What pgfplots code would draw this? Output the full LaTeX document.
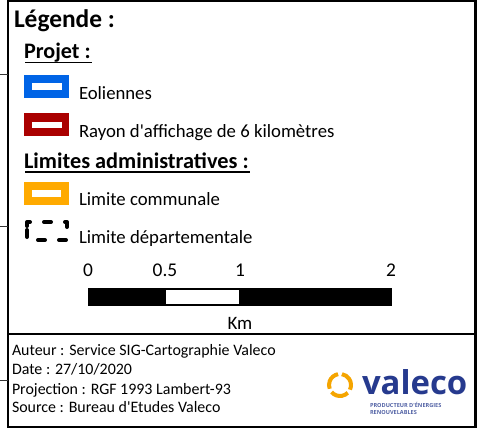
\documentclass[border=0pt]{standalone}
\usepackage{pgfplots}
\pgfplotsset{compat=1.18}
\usepackage{fontspec}
\setmainfont{Carlito}[Ligatures=TeXOff]
\newfontfamily\logofont{Open Sans}
\definecolor{eolblue}{RGB}{0,100,230}
\definecolor{rayred}{RGB}{170,0,0}
\definecolor{comorange}{RGB}{255,170,0}
\definecolor{logoblue}{RGB}{38,58,142}
\definecolor{logoorange}{RGB}{245,165,0}
\newcommand{\fs}[1]{\fontsize{#1}{#1}\selectfont}
\tikzset{tx/.style={inner sep=0pt, outer sep=0pt, anchor=base west}, tc/.style={inner sep=0pt, outer sep=0pt, anchor=base}}
\begin{document}
\begin{tikzpicture}
\useasboundingbox (0,0) rectangle (477bp,428bp);
\begin{axis}[at={(0,0)}, anchor=south west, width=477bp, height=428bp,
  scale only axis, xmin=0, xmax=477, ymin=0, ymax=428, y dir=reverse,
  hide axis, clip=false]

% ---- frame ----
\draw[black, line width=2bp] (axis cs:8,0) -- (axis cs:8,428);
\draw[black, line width=2bp] (axis cs:8,1) -- (axis cs:477,1);
\draw[black, line width=2.5bp] (axis cs:475.5,0) -- (axis cs:475.5,428);
\draw[black, line width=2bp] (axis cs:8,427) -- (axis cs:477,427);
\draw[black, line width=2.5bp] (axis cs:8,334) -- (axis cs:477,334);
\draw[black!80, line width=0.8bp] (axis cs:0,74.5) -- (axis cs:8,74.5);
\draw[black!80, line width=0.8bp] (axis cs:0,226) -- (axis cs:8,226);
\draw[black!80, line width=0.8bp] (axis cs:0,380) -- (axis cs:8,380);

% ---- titles ----
\node[tx, font=\fs{25.5}\bfseries] at (axis cs:14,28) {Légende :};
\node[tx, font=\fs{22.2}\bfseries] at (axis cs:24,59) {Projet :};
\draw[black, line width=1.5bp] (axis cs:25,62.5) -- (axis cs:92,62.5);

% ---- Eoliennes swatch ----
\addplot[fill=eolblue, draw=none] coordinates {(24,75) (69,75) (69,98) (24,98)};
\addplot[fill=white, draw=none] coordinates {(32,83) (62,83) (62,90) (32,90)};
\node[tx, font=\fs{18.8}] at (axis cs:79,99) {Eoliennes};

% ---- Rayon swatch ----
\addplot[fill=rayred, draw=none] coordinates {(24,113) (69,113) (69,135.5) (24,135.5)};
\addplot[fill=white, draw=none] coordinates {(32,121.5) (62,121.5) (62,128) (32,128)};
\node[tx, font=\fs{18.8}] at (axis cs:79,137) {Rayon d'affichage de 6 kilomètres};

% ---- Limites administratives ----
\node[tx, font=\fs{22.4}\bfseries] at (axis cs:24,168) {Limites administratives :};
\draw[black, line width=1.5bp] (axis cs:25,172) -- (axis cs:250,172);

\addplot[fill=comorange, draw=none] coordinates {(24,182) (69,182) (69,205) (24,205)};
\addplot[fill=white, draw=none] coordinates {(32,190) (61,190) (61,197) (32,197)};
\node[tx, font=\fs{18.8}] at (axis cs:79,205) {Limite communale};

\addplot[black, line width=4bp, line cap=round, line join=round, dash pattern=on 7bp off 14bp]
  coordinates {(27,226) (27,222) (67,222) (67,240) (27,240) (27,226)};
\node[tx, font=\fs{18.8}] at (axis cs:79,243) {Limite départementale};

% ---- scale bar (0 km at x=88, 2 km at x=392) ----
\addplot[fill=black, draw=none] coordinates {(88,288) (392,288) (392,306) (88,306)};
\addplot[fill=white, draw=none] coordinates {(166,290) (239,290) (239,304) (166,304)};
\node[tc, font=\fs{19.5}] at (axis cs:88,276) {0};
\node[tc, font=\fs{19.5}] at (axis cs:165,276) {0.5};
\node[tc, font=\fs{19.5}] at (axis cs:240,276) {1};
\node[tc, font=\fs{19.5}] at (axis cs:391,276) {2};
\node[tc, font=\fs{19}] at (axis cs:240,329) {Km};

% ---- footer ----
\node[tx, font=\fs{16}] at (axis cs:12,355) {Auteur : Service SIG-Cartographie Valeco};
\node[tx, font=\fs{16}] at (axis cs:12,374) {Date : 27/10/2020};
\node[tx, font=\fs{16}] at (axis cs:12,394) {Projection : RGF 1993 Lambert-93};
\node[tx, font=\fs{16}] at (axis cs:12,412) {Source : Bureau d'Etudes Valeco};

% ---- logo ----
\draw[logoorange, line width=4bp] ([shift={(100:11bp)}]axis cs:340,385) arc[start angle=100, end angle=200, radius=11bp];
\draw[logoorange, line width=4bp] ([shift={(220:11bp)}]axis cs:340,385) arc[start angle=220, end angle=315, radius=11bp];
\draw[logoorange, line width=4bp] ([shift={(335:11bp)}]axis cs:340,385) arc[start angle=335, end angle=440, radius=11bp];
\node[tx, font=\logofont\fs{33}\bfseries, text=logoblue] at (axis cs:362,394) {valeco};
\node[tx, font=\logofont\fs{5.6}\bfseries, text=logoblue!80] at (axis cs:370,407) {PRODUCTEUR D'ÉNERGIES};
\node[tx, font=\logofont\fs{5.6}\bfseries, text=logoblue!80] at (axis cs:370,414) {RENOUVELABLES};
\end{axis}
\end{tikzpicture}
\end{document}
